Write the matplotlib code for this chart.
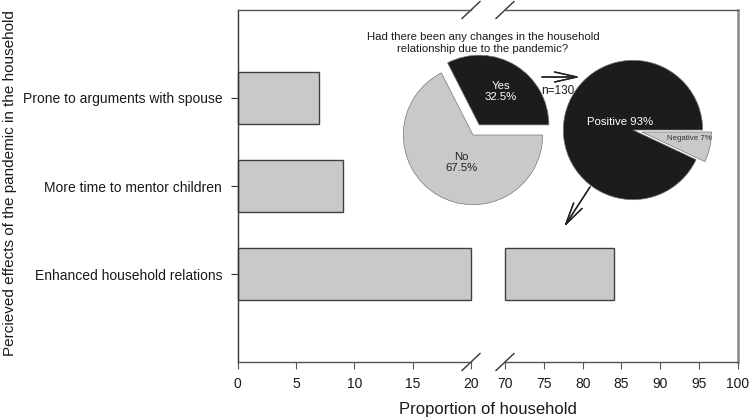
"""
Broken-axis bar chart of perceived household effects with two inset pies.
"""

import matplotlib.pyplot as plt

plt.rcParams["font.family"] = ["Liberation Sans", "DejaVu Sans"]

# =====================================================================
# DATA
# =====================================================================
effects = [
    "Enhanced household relations",
    "More time to mentor children",
    "Prone to arguments with spouse",
]
effect_share = [84, 9, 7]

change_labels = ["Yes\n32.5%", "No\n67.5%"]
change_share = [32.5, 67.5]

kind_labels = ["Positive 93%", "Negative 7%"]
kind_share = [93, 7]

left_ticks = [0, 5, 10, 15, 20]
right_ticks = [70, 75, 80, 85, 90, 95, 100]

W, H = 750, 419
BAR_FACE = "#c8c9cb"
DARK = "#1c1c1c"


def px_box(x0, y0, x1, y1):
    # image pixel box (top-left origin) -> figure fraction rect
    return [x0 / W, (H - y1) / H, (x1 - x0) / W, (y1 - y0) / H]


fig = plt.figure(figsize=(W / 100, H / 100), dpi=100)

ax1 = fig.add_axes(px_box(237.5, 10, 471, 362))
ax2 = fig.add_axes(px_box(505, 10, 738, 362))

ypos = range(1, len(effects) + 1)
bars_left = ax1.barh(
    ypos,
    [min(v, left_ticks[-1]) for v in effect_share],
    height=0.6,
    color=BAR_FACE,
    edgecolor="#404040",
    linewidth=1,
)
bars_right = ax2.barh(
    [y for y, v in zip(ypos, effect_share) if v > right_ticks[0]],
    [v - right_ticks[0] for v in effect_share if v > right_ticks[0]],
    left=right_ticks[0],
    height=0.6,
    color=BAR_FACE,
    edgecolor="#404040",
    linewidth=1,
)
for b in list(bars_left) + list(bars_right):
    b.set_clip_on(False)

ax1.set_xlim(left_ticks[0], left_ticks[-1])
ax2.set_xlim(right_ticks[0], right_ticks[-1])
for ax in (ax1, ax2):
    ax.set_ylim(0, 4)
    for s in ax.spines.values():
        s.set_color("#555555")
        s.set_linewidth(1.0)
    ax.tick_params(axis="x", direction="out", length=5, color="#555555",
                   labelsize=10, pad=6, labelcolor="#1a1a1a")

ax1.set_xticks(left_ticks)
ax2.set_xticks(right_ticks)
ax1.set_yticks(list(ypos))
ax1.set_yticklabels(effects)
ax1.tick_params(axis="y", direction="out", length=5, labelsize=10, pad=6,
                color="#333333", labelcolor="#1a1a1a")
ax1.spines["left"].set_color("#333333")
ax1.spines["right"].set_visible(False)
ax2.spines["left"].set_visible(False)
ax2.spines["right"].set_color("#888888")
ax2.spines["right"].set_linewidth(1.8)
ax2.set_yticks([])

# break marks on the axis lines
dx, dy = 9 / 233.5, 8.5 / 352
for ax, xc in ((ax1, 1), (ax2, 0)):
    for yc in (0, 1):
        ax.plot([xc - dx, xc + dx], [yc - dy, yc + dy], transform=ax.transAxes,
                color="#333333", lw=1, clip_on=False)

fig.text(488 / W, (H - 409) / H, "Proportion of household", fontsize=12,
         ha="center", va="center", color="#1a1a1a")
fig.text(10 / W, (H - 183) / H, "Percieved effects of the pandemic in the household",
         fontsize=11, rotation=90, ha="center", va="center", color="#1a1a1a")

# =====================================================================
# INSET PIES
# =====================================================================
R = 67  # pie radius in pixels


def pie_axes(cx, cy):
    half = 1.3 * R
    a = fig.add_axes(px_box(cx - half, cy - half, cx + half, cy + half))
    a.set_xlim(-1.3, 1.3)
    a.set_ylim(-1.3, 1.3)
    a.set_aspect("equal")
    a.axis("off")
    return a


pa = pie_axes(473, 135)
pa.pie(change_share, colors=[DARK, BAR_FACE], startangle=0, explode=[0.17, 0],
       wedgeprops=dict(edgecolor="#777777", linewidth=0.5))
pa.text(0.4, 0.63, change_labels[0], color="white", fontsize=8.2,
        ha="center", va="center", linespacing=1.1)
pa.text(-0.16, -0.4, change_labels[1], color="#222222", fontsize=8.2,
        ha="center", va="center", linespacing=1.1)

pb = pie_axes(633, 130)
pb.pie(kind_share, colors=[DARK, BAR_FACE], startangle=0, explode=[0, 0.13],
       wedgeprops=dict(edgecolor="#777777", linewidth=0.5))
pb.text(-0.19, 0.12, kind_labels[0], color="white", fontsize=8.2,
        ha="center", va="center")
pb.text(0.81, -0.12, kind_labels[1], color="#333333", fontsize=5.7,
        ha="center", va="center")

fig.text(483 / W, (H - 43) / H,
         "Had there been any changes in the household\nrelationship due to the pandemic?",
         fontsize=8.2, ha="center", va="center", color="#1a1a1a", linespacing=1.15)
fig.text(558 / W, (H - 91) / H, "n=130", fontsize=8.5, ha="center", va="center",
         color="#1a1a1a")

arrow_kw = dict(arrowstyle="->,head_length=1.6,head_width=0.36", color="#222222",
                lw=1, shrinkA=0, shrinkB=0)
fig.add_artist(plt.annotate("", xy=(580, H - 77), xytext=(542, H - 77),
                            xycoords="figure pixels", textcoords="figure pixels",
                            arrowprops=arrow_kw))
fig.add_artist(plt.annotate("", xy=(564, H - 227), xytext=(590, H - 187),
                            xycoords="figure pixels", textcoords="figure pixels",
                            arrowprops=arrow_kw))

fig.savefig("out.png", dpi=100)
